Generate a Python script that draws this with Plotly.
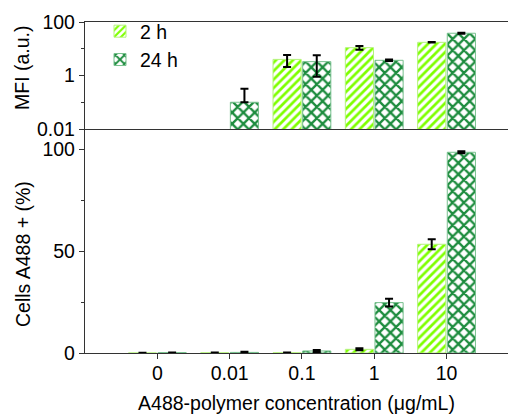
import plotly.graph_objects as go

categories = ["0", "0.01", "0.1", "1", "10"]

# Top panel: MFI (a.u.), log scale
mfi_2h = [None, None, 4.0, 11.0, 17.4]
mfi_2h_err = [0, 0, 1.9, 1.8, 0.4]
mfi_24h = [None, 0.1, 3.3, 3.7, 38.0]
mfi_24h_err_plus = [0, 0.22, 2.4, 0.25, 2.0]
mfi_24h_err_minus = [0, 0.0, 2.4, 0.25, 2.0]

# Bottom panel: Cells A488+ (%)
pct_2h = [0.0, 0.1, 0.1, 1.8, 53.3]
pct_2h_err = [0.1, 0.2, 0.1, 0.5, 2.5]
pct_24h = [0.2, 0.3, 1.0, 24.7, 98.4]
pct_24h_err = [0.1, 0.3, 0.5, 1.9, 0.5]

top_ticks = [0.01, 1, 100]
top_ticktext = ["0.01", "1", "100"]
top_minor = [0.1, 10]
bot_ticks = [0, 50, 100]
bot_minor = [25, 75]

C2 = "#7fff00"
C2_LINE = "#b4f37c"
C24 = "#1d8c3e"
C24_LINE = "#78c08e"
FONT = "Liberation Sans, Arial, sans-serif"
FS = 19.5

def pat2():
    return dict(shape="/", fillmode="replace", fgcolor=C2, bgcolor="white", size=6, solidity=0.45)

def pat24():
    return dict(shape="x", fillmode="replace", fgcolor=C24, bgcolor="white", size=8, solidity=0.5)

err_style = dict(color="black", thickness=2, width=4)

fig = go.Figure()
# top
fig.add_trace(go.Bar(x=categories, y=mfi_2h, name="2 h", xaxis="x2", yaxis="y2",
                     marker=dict(color=C2, line=dict(color=C2_LINE, width=1), pattern=pat2()),
                     error_y=dict(type="data", array=mfi_2h_err, **err_style),
                     offsetgroup="a", legendgroup="a"))
fig.add_trace(go.Bar(x=categories, y=mfi_24h, name="24 h", xaxis="x2", yaxis="y2",
                     marker=dict(color=C24, line=dict(color=C24_LINE, width=1), pattern=pat24()),
                     error_y=dict(type="data", array=mfi_24h_err_plus, arrayminus=mfi_24h_err_minus, **err_style),
                     offsetgroup="b", legendgroup="b"))
# bottom
fig.add_trace(go.Bar(x=categories, y=pct_2h, name="2 h", xaxis="x", yaxis="y", showlegend=False,
                     marker=dict(color=C2, line=dict(color=C2_LINE, width=1), pattern=pat2()),
                     error_y=dict(type="data", array=pct_2h_err, **err_style),
                     offsetgroup="a", legendgroup="a"))
fig.add_trace(go.Bar(x=categories, y=pct_24h, name="24 h", xaxis="x", yaxis="y", showlegend=False,
                     marker=dict(color=C24, line=dict(color=C24_LINE, width=1), pattern=pat24()),
                     error_y=dict(type="data", array=pct_24h_err, **err_style),
                     offsetgroup="b", legendgroup="b"))

split = 0.6767
axis_common = dict(showline=True, linecolor="#333333", linewidth=1.3, showgrid=False, zeroline=False,
                   tickfont=dict(family=FONT, size=FS, color="black"))

fig.update_layout(
    width=508, height=414,
    margin=dict(l=85, r=0, t=22, b=61, autoexpand=False),
    paper_bgcolor="white", plot_bgcolor="white",
    barmode="group", bargap=0.18, bargroupgap=0.05,
    font=dict(family=FONT, size=FS, color="black"),
    showlegend=True,
    legend=dict(xref="container", yref="container", x=(100 / 508), y=1 - 12 / 414,
                xanchor="left", yanchor="top", bgcolor="rgba(0,0,0,0)",
                font=dict(family=FONT, size=FS, color="black"), tracegroupgap=0, itemwidth=30),
    xaxis=dict(domain=[0, 1], anchor="y", type="category", range=[-1, 4.85],
               ticks="outside", ticklen=5, tickcolor="#333333", ticklabelstandoff=-3,
               title=dict(text="A488-polymer concentration (μg/mL)", font=dict(family=FONT, size=FS), standoff=15),
               **axis_common),
    xaxis2=dict(domain=[0, 1], anchor="y2", matches="x", type="category", range=[-1, 4.85],
                showticklabels=False, ticks="", mirror=True, **axis_common),
    yaxis=dict(domain=[0, split], anchor="x", range=[0, 109.8],
               tickvals=bot_ticks, ticks="outside", ticklen=5, tickcolor="#333333",
               minor=dict(tickvals=bot_minor, ticks="outside", ticklen=3, tickcolor="#333333"),
               **axis_common),
    yaxis2=dict(domain=[split, 1], anchor="x2", type="log", range=[-2, 2],
                tickvals=top_ticks, ticktext=top_ticktext, ticks="outside", ticklen=5, tickcolor="#333333",
                minor=dict(tickvals=top_minor, ticks="outside", ticklen=3, tickcolor="#333333"),
                **axis_common),
    annotations=[
        dict(text="MFI (a.u.)", textangle=-90, xref="paper", yref="paper",
             x=(22 - 85) / 423, y=(353 - 68) / 331, xanchor="center", yanchor="middle",
             showarrow=False, font=dict(family=FONT, size=FS, color="black")),
        dict(text="Cells A488 + (%)", textangle=-90, xref="paper", yref="paper",
             x=(23 - 85) / 423, y=(353 - 254) / 331, xanchor="center", yanchor="middle",
             showarrow=False, font=dict(family=FONT, size=FS, color="black")),
    ],
)

fig.write_html("out.html", config={"displayModeBar": False},
               post_script="document.body.style.margin='0';document.body.style.overflow='hidden';")
